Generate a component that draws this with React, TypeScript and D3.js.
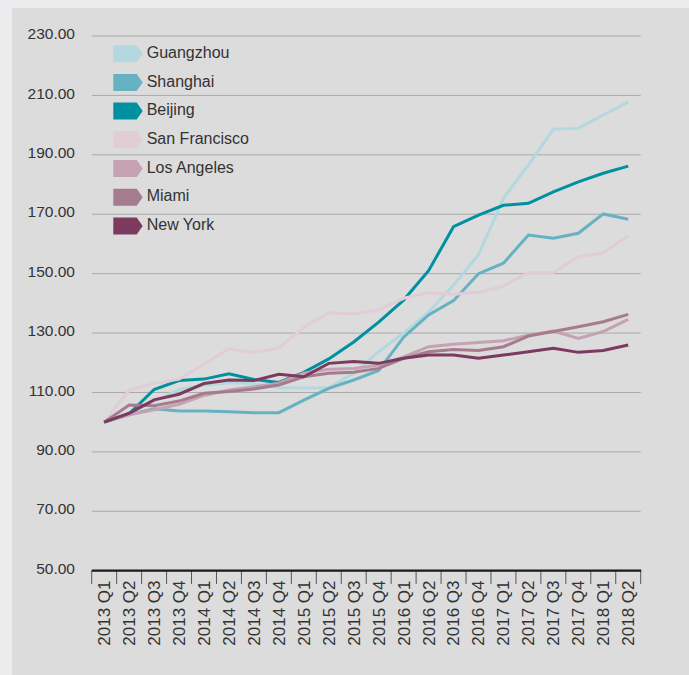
import React from "react";
import * as d3 from "d3";

const quarters = [
  "2013 Q1","2013 Q2","2013 Q3","2013 Q4","2014 Q1","2014 Q2","2014 Q3","2014 Q4",
  "2015 Q1","2015 Q2","2015 Q3","2015 Q4","2016 Q1","2016 Q2","2016 Q3","2016 Q4",
  "2017 Q1","2017 Q2","2017 Q3","2017 Q4","2018 Q1","2018 Q2",
];

const guangzhou = [100,103,107,111,112.5,113.3,113,111.6,111.5,111.5,116.5,123.7,130,137,146.2,156.3,175.4,186.6,198.6,198.9,203.4,207.8];
const shanghai = [100,102.5,104.5,103.8,103.8,103.5,103.2,103.2,107.4,111.4,114.2,117.4,128.6,136.1,140.9,150,153.5,163,161.9,163.6,170.1,168.3];
const beijing = [100,102.8,111,114,114.5,116.3,114.4,113.4,116.8,121.3,127,133.7,141.1,151,165.8,169.7,173,173.7,177.5,180.9,183.8,186.2];
const sanFrancisco = [100,110.8,113,114.5,119.5,124.7,123.4,125,131.9,136.8,136.4,137.8,141.7,143.6,143.1,143.7,145.8,150.4,150.4,155.7,157,162.8];
const losAngeles = [100,102.5,104.2,106,109,110.8,111.9,113.1,116.5,117.8,118.1,119.2,122,125.4,126.2,126.8,127.4,129.3,130.7,128.2,130.5,134.6];
const miami = [100,105.8,105.5,107.1,109.7,110.3,111.2,112.5,115.3,116.5,116.8,118.1,121.5,123.7,124.5,124.1,125.4,129,130.5,132.1,133.8,136.3];
const newYork = [100,103,107.5,109.4,113,114.2,114,116.1,115.3,119.8,120.4,119.8,121.5,122.6,122.6,121.5,122.6,123.7,124.9,123.5,124.1,126];

const seriesNames = ["Guangzhou","Shanghai","Beijing","San Francisco","Los Angeles","Miami","New York"];
const seriesValues = [guangzhou, shanghai, beijing, sanFrancisco, losAngeles, miami, newYork];
const seriesColors = ["#b3d8e0","#66b2c2","#0090a0","#e0cdd5","#c5a2b2","#a67b8e","#7c3a5f"];

const yTicks = [50,70,90,110,130,150,170,190,210,230];

const W = 689;
const H = 675;
const FONT = "'Liberation Sans', Arial, Helvetica, sans-serif";

export default function App() {
  const x = d3.scaleBand<string>().domain(quarters).range([91.7, 640.7]);
  const y = d3.scaleLinear().domain([50, 230]).range([570.7, 36]);
  const cx = (i: number) => (x(quarters[i]) as number) + x.bandwidth() / 2;
  const line = d3
    .line<number>()
    .x((_, i) => cx(i))
    .y((v) => y(v));

  const legendY0 = 53.7;
  const legendStep = 28.7;

  return (
    <svg
      width={W}
      height={H}
      style={{ position: "absolute", left: 0, top: 0 }}
      fontFamily={FONT}
    >
      <rect x={0} y={0} width={W} height={H} fill="#ececee" />
      <rect x={12} y={8} width={W - 12} height={H - 8} fill="#dcdcdc" />

      {yTicks.map((t) =>
        t === 50 ? null : (
          <line key={"g" + t} x1={91.7} x2={640.7} y1={y(t)} y2={y(t)} stroke="#a9a9a9" strokeWidth={1} />
        )
      )}
      {yTicks.map((t) => (
        <text key={"yl" + t} x={75} y={y(t) - 1} textAnchor="end" dominantBaseline="middle" fontSize={15.5} fill="#333">
          {t.toFixed(2)}
        </text>
      ))}

      {/* legend */}
      {seriesNames.map((name, k) => {
        const cy = legendY0 + k * legendStep;
        const x0 = 113.3, x1 = 136.7, x2 = 142.7, h = 8.5;
        const pts = `${x0},${cy - h} ${x1},${cy - h} ${x2},${cy} ${x1},${cy + h} ${x0},${cy + h}`;
        return (
          <g key={"lg" + name}>
            <polygon points={pts} fill={seriesColors[k]} />
            <text x={146.7} y={cy} dominantBaseline="middle" fontSize={16} fill="#333">
              {name}
            </text>
          </g>
        );
      })}

      {/* lines */}
      {seriesValues.map((vals, k) => (
        <path
          key={"ln" + k}
          d={line(vals) as string}
          fill="none"
          stroke={seriesColors[k]}
          strokeWidth={3}
          strokeLinejoin="miter"
        />
      ))}

      {/* x axis */}
      {quarters.map((q, i) => (
        <line
          key={"tk" + i}
          x1={x(q) as number}
          x2={x(q) as number}
          y1={570.7}
          y2={584}
          stroke="#555"
          strokeWidth={1}
        />
      ))}
      <line x1={640.7} x2={640.7} y1={570.7} y2={584} stroke="#555" strokeWidth={1} />
      <line x1={91.7} x2={641.2} y1={570.7} y2={570.7} stroke="#1a1a1a" strokeWidth={2.2} />
      {quarters.map((q, i) => (
        <text
          key={"xl" + i}
          transform={`translate(${cx(i)},580.5) rotate(-90)`}
          textAnchor="end"
          dy="0.35em"
          fontSize={17}
          fill="#333"
        >
          {q}
        </text>
      ))}
    </svg>
  );
}
